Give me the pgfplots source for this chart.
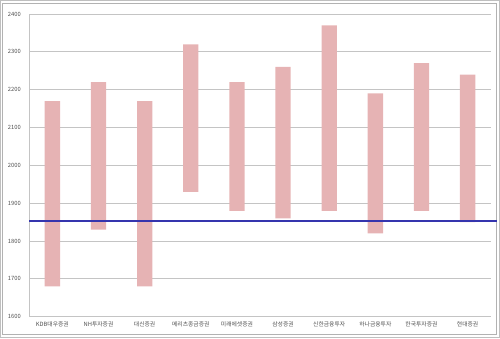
\documentclass[border=0pt]{standalone}
\usepackage{pgfplots}
\pgfplotsset{compat=1.18}
\usepackage{fontspec}
\setmainfont{Noto Sans CJK KR}
\definecolor{barpink}{HTML}{E6B3B4}
\definecolor{lineblue}{HTML}{3535AE}
\definecolor{gridgray}{HTML}{C4C4C4}
\definecolor{txtgray}{HTML}{505050}
\begin{document}
\begin{tikzpicture}[x=1pt,y=1pt]
\useasboundingbox (0,0) rectangle (500,338);
\draw[draw=gray!50, line width=1pt] (0.5,0.5) rectangle (499.5,337.5);
\draw[draw=gray!60, line width=0.8pt] (2.5,4) rectangle (496,334.5);
\pgfplotsset{common/.style={
  at={(29.3pt,21.3pt)}, anchor=south west,
  scale only axis, width=461.4pt, height=302.7pt,
  xmin=-0.5, xmax=9.5, ymin=1600, ymax=2400,
}}
\begin{axis}[common,
  ybar stacked, bar width=15.3pt,
  axis x line*=bottom, axis y line*=left,
  axis line style={draw=gridgray, line width=0.8pt},
  ytick={1600,1700,...,2400},
  ymajorgrids, grid style={draw=gridgray, line width=0.8pt},
  major tick length=0pt,
  xtick={0,...,9},
  xticklabels={KDB대우증권,NH투자증권,대신증권,메리츠종금증권,미래에셋증권,삼성증권,신한금융투자,하나금융투자,한국투자증권,현대증권},
  ticklabel style={font=\fontsize{5.8}{6}\selectfont, text=txtgray},
  yticklabel style={xshift=-5pt},
  xticklabel style={yshift=-1pt},
  /pgf/number format/assume math mode=true,
  /pgf/number format/set thousands separator={},
]
\addplot[draw=none, fill=none] coordinates {(0,1680) (1,1830) (2,1680) (3,1930) (4,1880) (5,1860) (6,1880) (7,1820) (8,1880) (9,1850)};
\addplot[draw=none, fill=barpink] coordinates {(0,490) (1,390) (2,490) (3,390) (4,340) (5,400) (6,490) (7,370) (8,390) (9,390)};
\end{axis}
\begin{axis}[common, hide axis, clip=false]
\addplot[lineblue, line width=2.8pt] coordinates {(-0.5,1853) (9.63,1853)};
\end{axis}
\end{tikzpicture}
\end{document}
